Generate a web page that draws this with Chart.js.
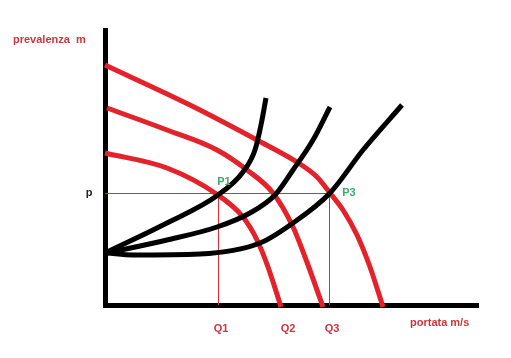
<!DOCTYPE html>
<html>
<head>
<meta charset="utf-8">
<script src="https://cdn.jsdelivr.net/npm/chart.js@4/dist/chart.umd.min.js"></script>
<style>
  html, body { margin: 0; padding: 0; background: #fff; }
  #wrap { width: 511px; height: 358px; position: relative; }
</style>
</head>
<body>
<div id="wrap"><canvas id="chart" width="511" height="358"></canvas></div>
<script>
// pump curves (red) in axis units
const pump1 = [[0,240],[85,200],[152,165],[195,141],[212,128],[225,112],[238,95],[252,70],[265,38],[278,-2]];
const pump2 = [[2,197],[62,175],[112,155],[142,135],[168,112],[188,78],[203,40],[218,-2]];
const pump3 = [[0,152],[62,137],[113,110],[138,88],[152,65],[163,38],[176,-2]];
// system curves (black)
const sys1 = [[2,53],[62,82],[113,110],[138,133],[150,155],[156,180],[161,207]];
const sys2 = [[2,52],[62,65],[112,78],[145,92],[170,110],[188,135],[208,165],[225,198]];
const sys3 = [[2,52],[28,50],[95,51],[155,62],[188,82],[225,112],[258,155],[297,200]];

const pHead = 112;
const qLabels = ['Q1', 'Q2', 'Q3'];
const qValues = [113, 180, 224];

const RED = '#e3222b';
const toXY = arr => arr.map(p => ({x: p[0], y: p[1]}));

function curve(data, color, width) {
  return {
    data: toXY(data), showLine: true, borderColor: color, borderWidth: width,
    pointRadius: 0, cubicInterpolationMode: 'monotone', fill: false, clip: false,
    borderCapStyle: 'butt'
  };
}

const labels = {
  id: 'labels',
  afterDatasetsDraw(chart) {
    const ctx = chart.ctx;
    const xs = chart.scales.x, ys = chart.scales.y;
    ctx.save();
    ctx.font = 'bold 11px Arial, "Liberation Sans", sans-serif';
    ctx.textBaseline = 'middle';
    ctx.fillStyle = '#c9373f';
    ctx.textAlign = 'left';
    ctx.fillText('prevalenza  m', 13, 40);
    ctx.fillText('portata m/s', 410, 323);
    ctx.textAlign = 'center';
    qLabels.forEach((q, i) => ctx.fillText(q, xs.getPixelForValue(qValues[i]) + 3, 329));
    ctx.fillStyle = '#222';
    ctx.fillText('p', 89, ys.getPixelForValue(pHead));
    ctx.fillStyle = '#3daa6c';
    ctx.fillText('P1', xs.getPixelForValue(113) + 6, ys.getPixelForValue(pHead) - 11);
    ctx.fillText('P3', xs.getPixelForValue(224) + 20, ys.getPixelForValue(pHead));
    ctx.restore();
  }
};

// thin guide lines for p, Q1, Q3
const guides = {
  id: 'guides',
  beforeDatasetsDraw(chart) {
    const ctx = chart.ctx;
    const xs = chart.scales.x, ys = chart.scales.y;
    const yp = Math.round(ys.getPixelForValue(pHead)) + 0.5;
    const y0 = ys.getPixelForValue(0);
    ctx.save();
    ctx.strokeStyle = '#d8303a';
    ctx.lineWidth = 1;
    ctx.beginPath();
    ctx.moveTo(xs.getPixelForValue(0), yp);
    ctx.lineTo(xs.getPixelForValue(qValues[2]), yp);
    [qValues[0], qValues[2]].forEach(q => {
      const xq = Math.round(xs.getPixelForValue(q)) + 0.5;
      ctx.moveTo(xq, yp);
      ctx.lineTo(xq, y0);
    });
    ctx.stroke();
    ctx.restore();
  }
};

new Chart(document.getElementById('chart'), {
  type: 'scatter',
  data: {
    datasets: [
      curve(sys1, '#000', 5),
      curve(sys2, '#000', 5),
      curve(sys3, '#000', 5),
      curve(pump1, RED, 5),
      curve(pump2, RED, 5),
      curve(pump3, RED, 5)
    ]
  },
  options: {
    responsive: false,
    animation: false,
    layout: { padding: { left: 105, right: 33, top: 30, bottom: 53 } },
    plugins: { legend: { display: false }, tooltip: { enabled: false } },
    scales: {
      x: {
        type: 'linear', min: 0, max: 373,
        grid: { display: false, drawTicks: false },
        ticks: { display: false },
        border: { display: true, color: '#000', width: 5 }
      },
      y: {
        type: 'linear', min: 0, max: 275,
        grid: { display: false, drawTicks: false },
        ticks: { display: false },
        border: { display: true, color: '#000', width: 5 }
      }
    }
  },
  plugins: [guides, labels]
});
</script>
</body>
</html>
